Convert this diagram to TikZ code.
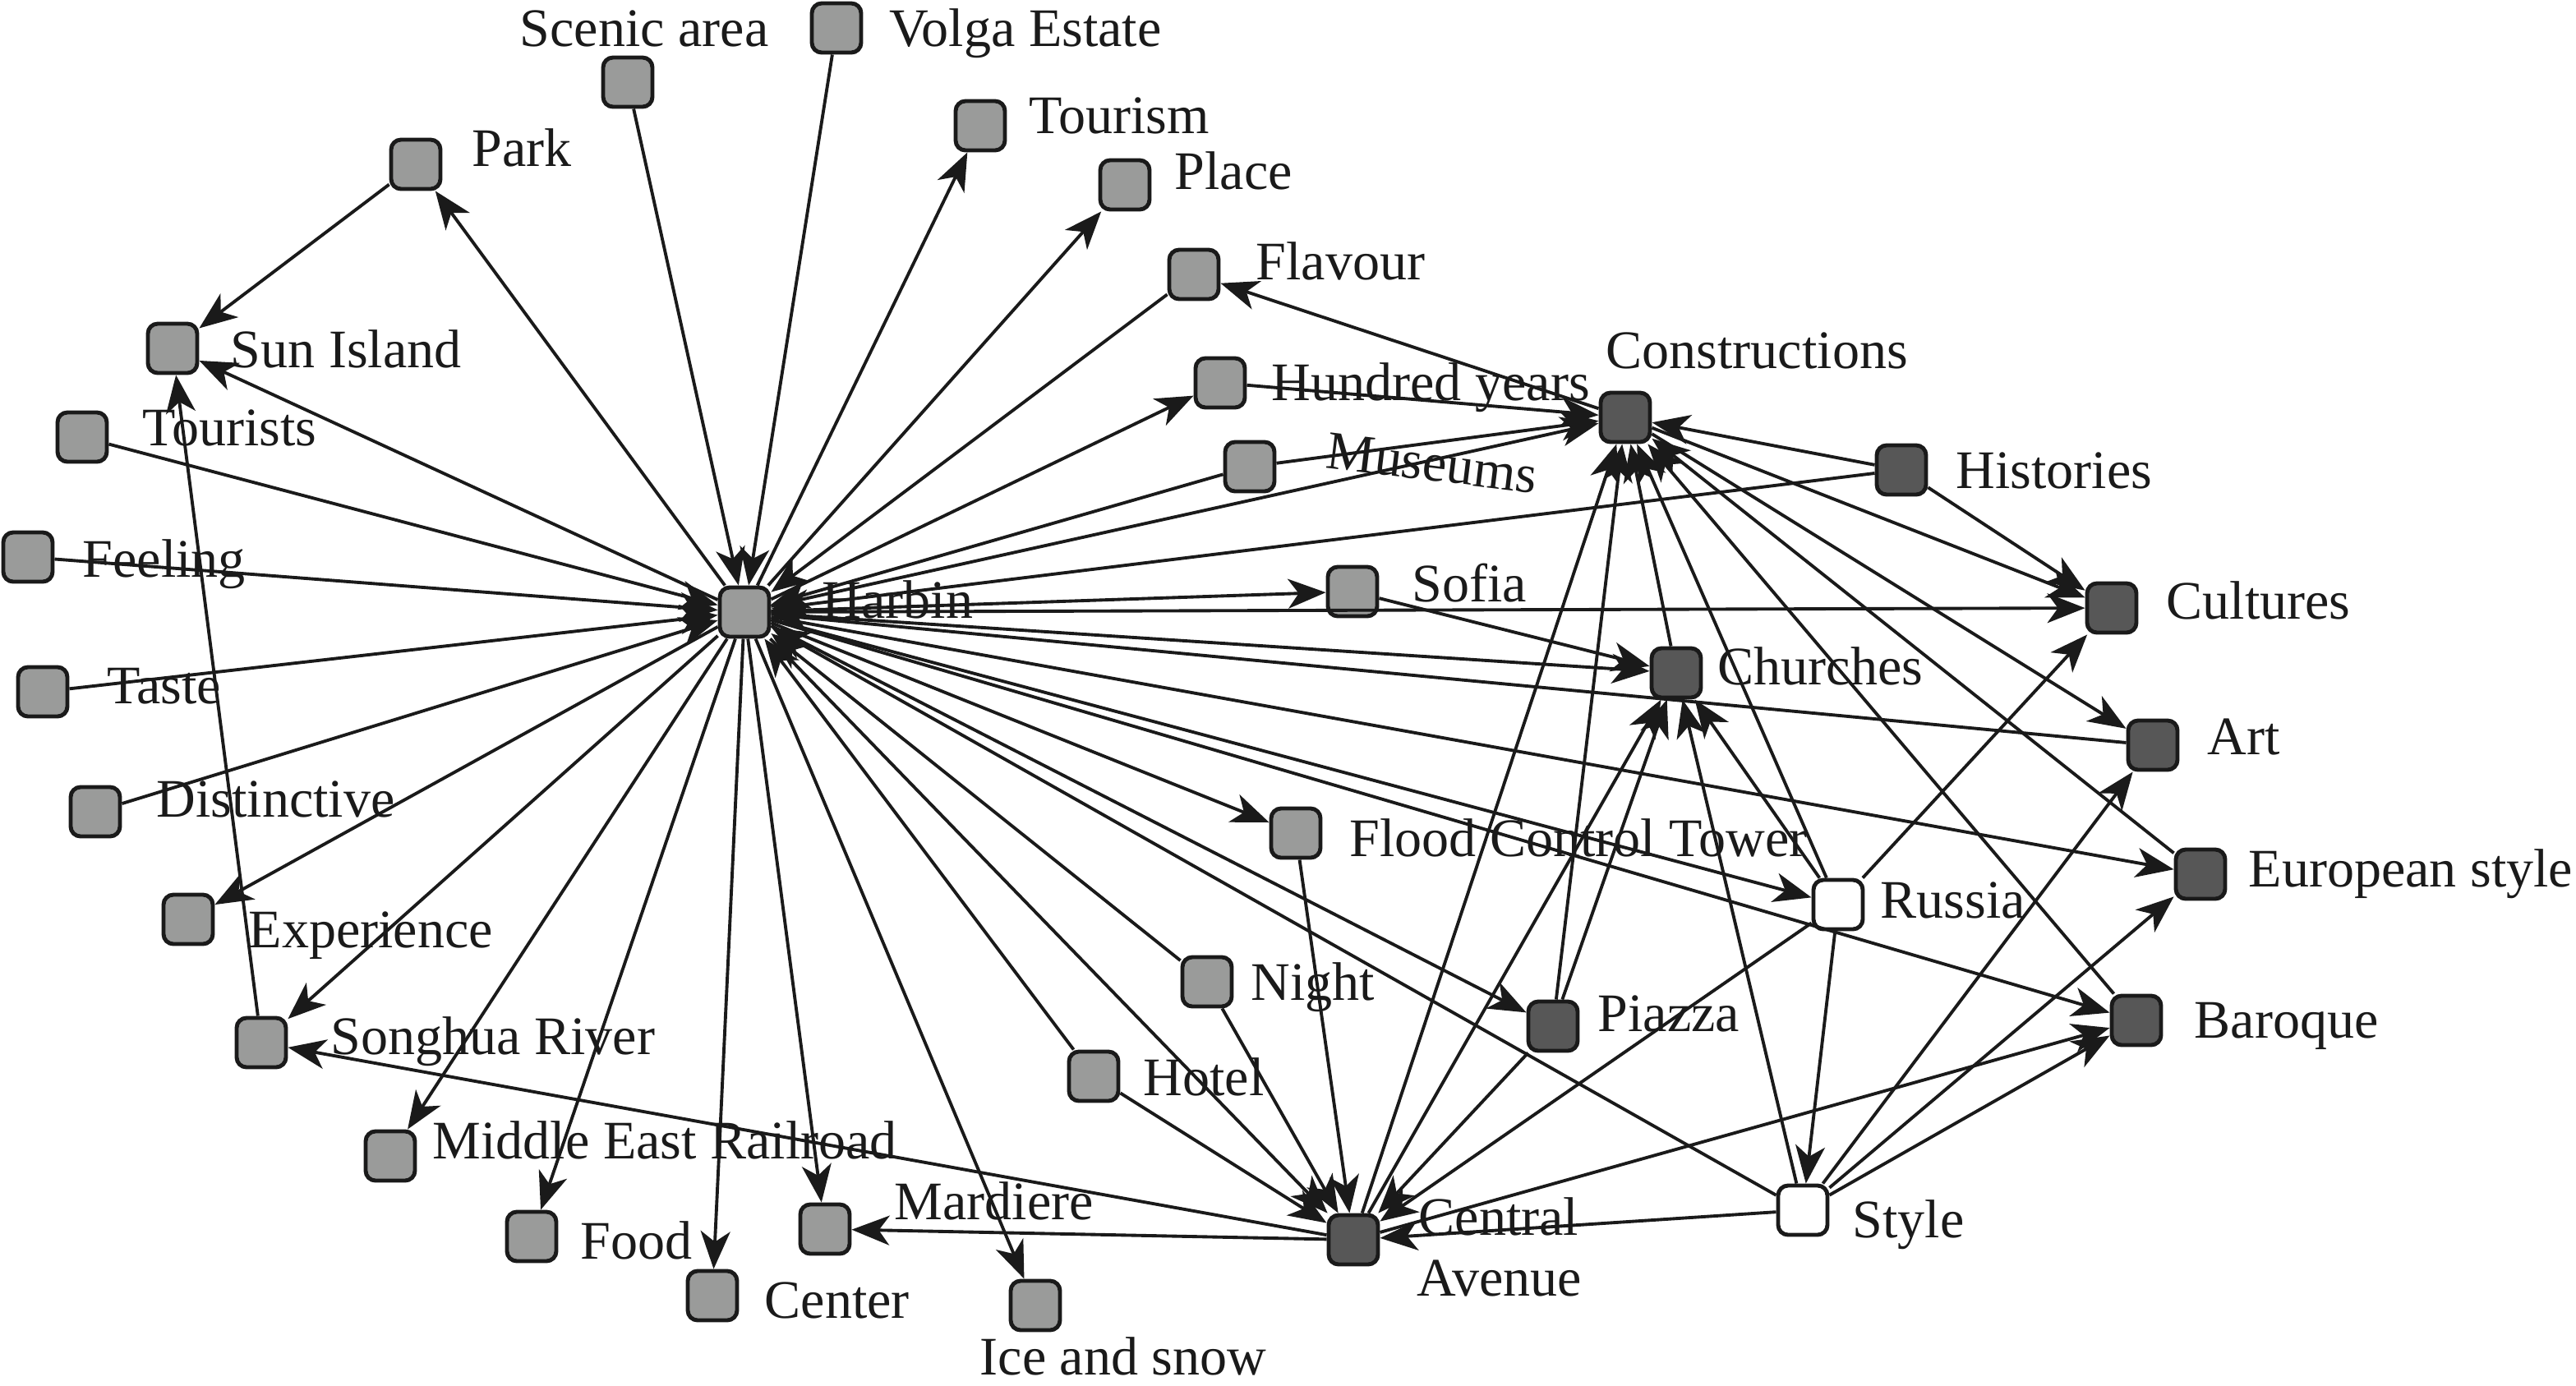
\documentclass[tikz,border=0pt]{standalone}
\usepackage{fontspec}
\setmainfont{Liberation Serif}
\usetikzlibrary{arrows.meta}
\definecolor{lg}{HTML}{9A9B9A}
\definecolor{dg}{HTML}{575757}
\definecolor{bd}{HTML}{1A1A1A}
\tikzset{
 box/.style={draw=bd, line width=1.4pt, rounded corners=0.12cm, minimum size=0.6cm, inner sep=0pt},
 lbox/.style={box, fill=lg},
 dbox/.style={box, fill=dg},
 wbox/.style={box, fill=white},
 lab/.style={anchor=base west, inner sep=0pt, font=\fontsize{18.8pt}{21pt}\selectfont, text=bd},
 ed/.style={draw=bd, line width=1.1pt, -{Stealth[length=0.46cm,width=0.36cm,inset=0.13cm]}},
}
\begin{document}
\begin{tikzpicture}[x=0.02cm,y=-0.02cm]
\useasboundingbox (0,0) rectangle (1567.5,843);
% boxes
\node[lbox] (scenic) at (382,50) {};
\node[lbox] (volga) at (509,17) {};
\node[lbox] (park) at (253,100) {};
\node[lbox] (tourism) at (596.5,76.5) {};
\node[lbox] (place) at (684.5,112.5) {};
\node[lbox] (flavour) at (726.5,167) {};
\node[lbox] (sun) at (105,212) {};
\node[lbox] (tourists) at (50,266) {};
\node[lbox] (hundred) at (742.5,233) {};
\node[dbox] (constr) at (989,254) {};
\node[lbox] (museums) at (760.5,284) {};
\node[dbox] (histories) at (1157,286) {};
\node[lbox] (feeling) at (17,339) {};
\node[lbox] (harbin) at (453,372.5) {};
\node[lbox] (sofia) at (823,360) {};
\node[dbox] (cultures) at (1285,370) {};
\node[lbox] (taste) at (26,421) {};
\node[dbox] (churches) at (1020,409.5) {};
\node[dbox] (art) at (1310,453.5) {};
\node[lbox] (distinct) at (58,494) {};
\node[lbox] (fct) at (788.5,507) {};
\node[dbox] (euro) at (1339,532) {};
\node[wbox] (russia) at (1118.5,550.5) {};
\node[lbox] (exper) at (114.5,559.5) {};
\node[lbox] (night) at (734.5,597.5) {};
\node[dbox] (piazza) at (945,624.5) {};
\node[dbox] (baroque) at (1300,621) {};
\node[lbox] (songhua) at (159,634.5) {};
\node[lbox] (hotel) at (665.5,655) {};
\node[lbox] (mer) at (237.5,703.5) {};
\node[wbox] (style) at (1097,736.5) {};
\node[dbox] (central) at (823.5,754.5) {};
\node[lbox] (mardiere) at (502,748) {};
\node[lbox] (food) at (323.5,752.5) {};
\node[lbox] (center) at (433.5,788.5) {};
\node[lbox] (ice) at (630,794.5) {};
% labels
\node[lab] (scenicT) at (316,28) {Scenic area};
\node[lab] (volgaT) at (541,28) {Volga Estate};
\node[lab] (parkT) at (287,101) {Park};
\node[lab] (tourismT) at (626,81) {Tourism};
\node[lab] (placeT) at (714.5,115) {Place};
\node[lab] (flavourT) at (764,170) {Flavour};
\node[lab] (sunT) at (140,223.5) {Sun Island};
\node[lab] (touristsT) at (86.5,271) {Tourists};
\node[lab] (hundredT) at (773.5,243.5) {Hundred years};
\node[lab] (constrT) at (977,224) {Constructions};
\node[lab, rotate=-7] (museumsT) at (806,284.5) {Museums};
\node[lab] (historiesT) at (1190,297) {Histories};
\node[lab] (feelingT) at (50,351) {Feeling};
\node[lab] (harbinT) at (500,376) {Harbin};
\node[lab] (sofiaT) at (859,366) {Sofia};
\node[lab] (culturesT) at (1318,376.5) {Cultures};
\node[lab] (tasteT) at (65,428) {Taste};
\node[lab] (churchesT) at (1045,416.5) {Churches};
\node[lab] (artT) at (1343,459) {Art};
\node[lab] (distinctT) at (95,497) {Distinctive};
\node[lab] (fctT) at (821,521) {Flood Control Tower};
\node[lab] (euroT) at (1368,539.5) {European style};
\node[lab] (russiaT) at (1144,558.5) {Russia};
\node[lab] (experT) at (151,576.5) {Experience};
\node[lab] (nightT) at (761,608.5) {Night};
\node[lab] (piazzaT) at (972,627.5) {Piazza};
\node[lab] (baroqueT) at (1335,631.5) {Baroque};
\node[lab] (songhuaT) at (201,641.5) {Songhua River};
\node[lab] (hotelT) at (695.5,666.5) {Hotel};
\node[lab] (merT) at (263,705) {Middle East Railroad};
\node[lab] (styleT) at (1127,753) {Style};
\node[lab] (centralT) at (863,751.5) {Central};
\node[lab] (avenueT) at (862,788.5) {Avenue};
\node[lab] (mardiereT) at (544,742) {Mardiere};
\node[lab] (foodT) at (353,766) {Food};
\node[lab] (centerT) at (465,802) {Center};
\node[lab] (iceT) at (596,836.5) {Ice and snow};
% edges
\foreach \a/\b in {
 scenic/harbin, volga/harbin, tourists/harbin, feeling/harbin, taste/harbin,
 distinct/harbin, flavour/harbin, museums/harbin, histories/harbin, art/harbin,
 style/harbin, night/harbin, hotel/harbin,
 harbin/park, harbin/sun, harbin/tourism, harbin/place, harbin/hundred,
 harbin/constr, harbin/sofia, harbin/cultures, harbin/churches, harbin/euro,
 harbin/fct, harbin/russia, harbin/piazza, harbin/baroque, harbin/central,
 harbin/exper, harbin/songhua, harbin/mer, harbin/food, harbin/center,
 harbin/mardiere, harbin/ice,
 park/sun, songhua/sun,
 constr/flavour, hundred/constr, museums/constr, histories/constr,
 constr/cultures, constr/art, euro/constr, baroque/constr, central/constr,
 piazza/constr, churches/constr, russia/constr,
 histories/cultures, russia/cultures,
 sofia/churches, central/churches, piazza/churches, style/churches, russia/churches,
 style/art, style/euro, style/baroque, central/baroque,
 hotel/central, night/central, fct/central, piazza/central, russia/central, style/central,
 central/songhua, central/mardiere, russia/style}
 \draw[ed] (\a) -- (\b);
\end{tikzpicture}
\end{document}
